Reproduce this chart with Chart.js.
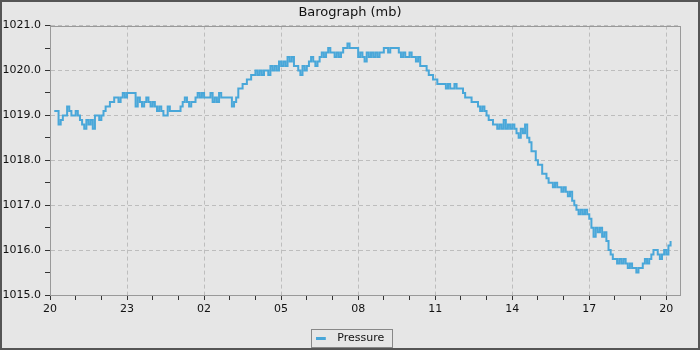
<!DOCTYPE html>
<html>
<head>
<meta charset="utf-8">
<script src="https://cdn.jsdelivr.net/npm/chart.js@4/dist/chart.umd.min.js"></script>
<style>
  html, body { margin: 0; padding: 0; background: #e6e6e6; }
  #wrap { width: 700px; height: 350px; }
</style>
</head>
<body>
<div id="wrap"><canvas id="baro"></canvas></div>
<script>
// barograph readings, one every 5 minutes starting 20:10
var startHour = 20;
var firstMinute = 10;
var stepMinutes = 5;
var pressure = [
  1019.1,1019.1,1018.8,1018.9,1019.0,1019.0,1019.2,1019.1,1019.0,1019.0,1019.1,1019.0,
  1018.9,1018.8,1018.7,1018.9,1018.8,1018.9,1018.7,1019.0,1019.0,1018.9,1019.0,1019.1,
  1019.2,1019.2,1019.3,1019.3,1019.4,1019.4,1019.3,1019.4,1019.5,1019.4,1019.5,1019.5,
  1019.5,1019.5,1019.2,1019.4,1019.3,1019.2,1019.3,1019.4,1019.3,1019.2,1019.3,1019.2,
  1019.1,1019.2,1019.1,1019.0,1019.0,1019.2,1019.1,1019.1,1019.1,1019.1,1019.1,1019.2,
  1019.3,1019.4,1019.3,1019.2,1019.3,1019.3,1019.4,1019.5,1019.4,1019.5,1019.4,1019.4,
  1019.4,1019.5,1019.3,1019.4,1019.3,1019.5,1019.4,1019.4,1019.4,1019.4,1019.4,1019.2,
  1019.3,1019.4,1019.6,1019.6,1019.7,1019.7,1019.8,1019.8,1019.9,1019.9,1020.0,1019.9,
  1020.0,1019.9,1020.0,1020.0,1019.9,1020.1,1020.0,1020.1,1020.0,1020.2,1020.1,1020.2,
  1020.1,1020.3,1020.2,1020.3,1020.1,1020.1,1020.0,1019.9,1020.1,1020.0,1020.1,1020.2,
  1020.3,1020.2,1020.1,1020.2,1020.3,1020.4,1020.3,1020.4,1020.5,1020.4,1020.4,1020.3,
  1020.4,1020.3,1020.4,1020.5,1020.5,1020.6,1020.5,1020.5,1020.5,1020.5,1020.3,1020.4,
  1020.3,1020.2,1020.4,1020.3,1020.4,1020.3,1020.4,1020.3,1020.4,1020.4,1020.5,1020.5,
  1020.4,1020.5,1020.5,1020.5,1020.5,1020.4,1020.3,1020.4,1020.3,1020.3,1020.4,1020.3,
  1020.3,1020.2,1020.3,1020.1,1020.1,1020.1,1020.0,1019.9,1019.9,1019.8,1019.8,1019.7,
  1019.7,1019.7,1019.7,1019.6,1019.7,1019.6,1019.6,1019.7,1019.6,1019.6,1019.6,1019.5,
  1019.4,1019.4,1019.4,1019.3,1019.3,1019.3,1019.2,1019.1,1019.2,1019.1,1019.0,1018.9,
  1018.9,1018.8,1018.8,1018.7,1018.8,1018.7,1018.9,1018.7,1018.8,1018.7,1018.8,1018.7,
  1018.6,1018.5,1018.7,1018.6,1018.8,1018.5,1018.4,1018.2,1018.2,1018.0,1017.9,1017.9,
  1017.7,1017.7,1017.6,1017.5,1017.5,1017.4,1017.5,1017.4,1017.4,1017.3,1017.4,1017.3,
  1017.2,1017.3,1017.1,1017.0,1016.9,1016.8,1016.9,1016.8,1016.9,1016.8,1016.7,1016.5,
  1016.3,1016.5,1016.4,1016.5,1016.3,1016.4,1016.2,1016.0,1015.9,1015.8,1015.8,1015.7,
  1015.8,1015.7,1015.8,1015.7,1015.6,1015.7,1015.6,1015.6,1015.5,1015.6,1015.6,1015.7,
  1015.8,1015.7,1015.8,1015.9,1016.0,1016.0,1015.9,1015.8,1015.9,1016.0,1015.9,1016.1,1016.2
];
var yMin = 1015, yMax = 1021;
var xMaxMinutes = 1472;   // axis runs a little past 20:00 next day

var points = pressure.map(function (p, i) {
  return { x: firstMinute + i * stepMinutes, y: p };
});

var lineBlue = '#49a7d9';
var gridGrey = '#bdbdbd';

// legend swatch: short dash on the left of a wider slot
var swatch = document.createElement('canvas');
swatch.width = 16;
swatch.height = 3;
var sc = swatch.getContext('2d');
sc.fillStyle = lineBlue;
sc.fillRect(0, 0, 10, 3);

// page background, dark outer frame, frame round the plot and the legend
var framePlugin = {
  id: 'frames',
  beforeDraw: function (chart) {
    var c = chart.ctx;
    c.save();
    c.fillStyle = '#e6e6e6';
    c.fillRect(0, 0, chart.width, chart.height);
    c.restore();
  },
  beforeDatasetsDraw: function (chart) {
    var a = chart.chartArea, c = chart.ctx;
    c.save();
    c.strokeStyle = '#999';
    c.lineWidth = 1;
    c.strokeRect(Math.round(a.left) + 0.5, Math.round(a.top) + 0.5,
                 Math.round(a.right - a.left), Math.round(a.bottom - a.top));
    c.restore();
  },
  afterDraw: function (chart) {
    var c = chart.ctx;
    c.save();
    c.strokeStyle = '#555';
    c.lineWidth = 2;
    c.strokeRect(1, 1, chart.width - 2, chart.height - 2);
    var hb = chart.legend.legendHitBoxes && chart.legend.legendHitBoxes[0];
    if (hb) {
      var cy = Math.round(hb.top + hb.height / 2);
      c.strokeStyle = '#888';
      c.lineWidth = 1;
      c.strokeRect(Math.round(hb.left) - 4.5, cy - 9.5,
                   Math.round(hb.width) + 13, 18);
    }
    c.restore();
  }
};

function hourLabel(v) {
  if (v % 180 !== 0) return '';
  var h = (startHour + v / 60) % 24;
  return (h < 10 ? '0' : '') + h;
}

Chart.defaults.font.family = 'DejaVu Sans';
Chart.defaults.font.size = 11;
Chart.defaults.color = '#111';

var ctx = document.getElementById('baro');
var chart = new Chart(ctx, {
  type: 'line',
  data: {
    datasets: [{
      label: 'Pressure',
      data: points,
      borderColor: lineBlue,
      backgroundColor: lineBlue,
      borderWidth: 2,
      pointRadius: 0,
      stepped: true,
      fill: false
    }]
  },
  plugins: [framePlugin],
  options: {
    responsive: true,
    maintainAspectRatio: false,
    animation: false,
    layout: { padding: { left: 0, right: 0, top: 0, bottom: -4 } },
    plugins: {
      title: {
        display: true,
        text: 'Barograph (mb)',
        font: { size: 13, weight: 'normal' },
        color: '#111',
        padding: { top: 5, bottom: 5 }
      },
      legend: {
        position: 'bottom',
        labels: {
          usePointStyle: true,
          pointStyle: swatch,
          pointStyleWidth: 16,
          boxHeight: 8,
          padding: 0,
          color: '#111'
        }
      },
      tooltip: { enabled: false }
    },
    scales: {
      x: {
        type: 'linear',
        min: 0,
        max: xMaxMinutes,
        afterFit: function (s) { s.height = 38; },
        ticks: {
          stepSize: 60,
          includeBounds: false,
          autoSkip: false,
          maxRotation: 0,
          padding: 3,
          callback: function (v) { return hourLabel(v); }
        },
        grid: {
          color: function (c) { return c.tick && c.tick.value % 180 === 0 ? gridGrey : 'rgba(0,0,0,0)'; },
          tickColor: '#333',
          tickLength: 5
        },
        border: { color: '#888', dash: [4, 3] }
      },
      y: {
        min: yMin,
        max: yMax,
        afterFit: function (s) { s.width = 50; },
        ticks: {
          stepSize: 0.5,
          padding: 4,
          callback: function (v) { return Math.abs(v - Math.round(v)) < 1e-6 ? v.toFixed(1) : ''; }
        },
        grid: {
          color: function (c) {
            var v = c.tick ? c.tick.value : 0.5;
            return Math.abs(v - Math.round(v)) < 1e-6 ? gridGrey : 'rgba(0,0,0,0)';
          },
          tickColor: '#333',
          tickLength: 5
        },
        border: { color: '#888', dash: [4, 3] }
      },
      // empty strip on the right so the plot stops at the same place as the original
      rightGap: {
        position: 'right',
        display: true,
        afterFit: function (s) { s.width = 20; },
        ticks: { display: false },
        grid: { display: false, drawTicks: false },
        border: { display: false }
      }
    }
  }
});
</script>
</body>
</html>
